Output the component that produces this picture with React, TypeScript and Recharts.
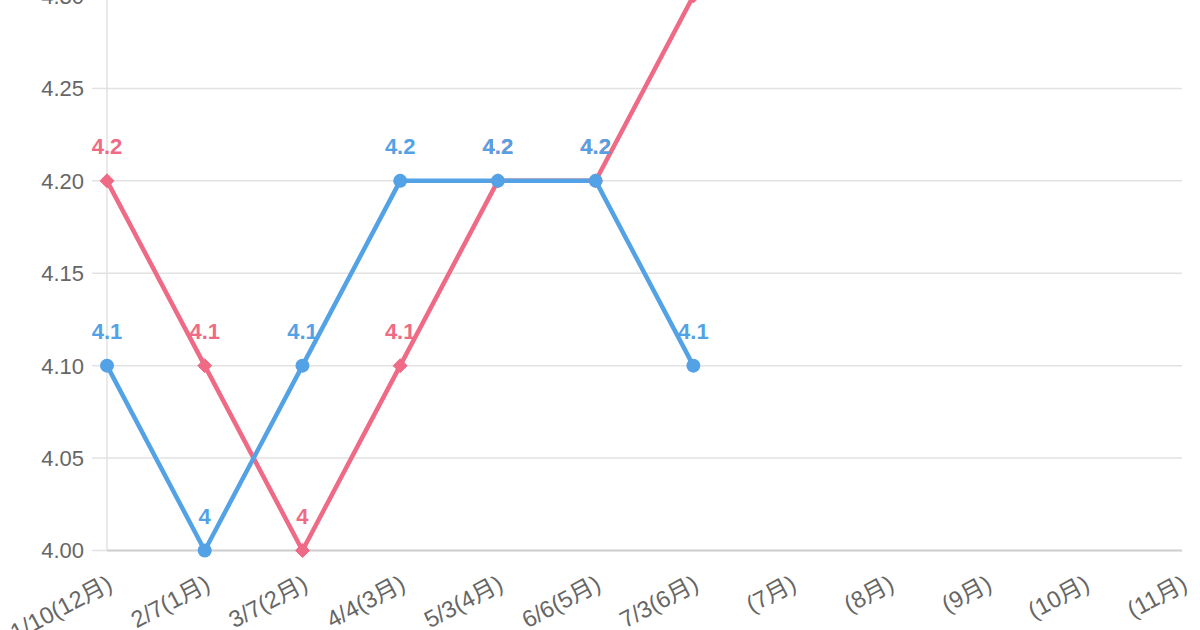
import React from "react";
import { LineChart, Line, XAxis, YAxis, CartesianGrid, LabelList } from "recharts";

const categories = [
  "1/10(12月)", "2/7(1月)", "3/7(2月)", "4/4(3月)", "5/3(4月)", "6/6(5月)",
  "7/3(6月)", "(7月)", "(8月)", "(9月)", "(10月)", "(11月)",
];
const redSeries: (number | null)[] = [4.2, 4.1, 4.0, 4.1, 4.2, 4.2, 4.3, null, null, null, null, null];
const blueSeries: (number | null)[] = [4.1, 4.0, 4.1, 4.2, 4.2, 4.2, 4.1, null, null, null, null, null];
const yTicks = [4.0, 4.05, 4.1, 4.15, 4.2, 4.25, 4.3];

const RED = "#ef6a84";
const BLUE = "#54a2e6";
const FONT = "'Liberation Sans', Arial, 'Noto Sans CJK JP', sans-serif";

const data = categories.map((c, i) => ({ name: c, red: redSeries[i], blue: blueSeries[i] }));

const XTick = (props: any) => {
  const { x, payload } = props;
  const ax = x + 3;
  const ay = 564.5 + 31;
  return (
    <text
      x={ax}
      y={ay}
      dy="0.35em"
      textAnchor="end"
      transform={`rotate(-28, ${ax}, ${ay})`}
      fill="#666"
      fontSize={23.5}
      fontFamily={FONT}
    >
      {payload.value}
    </text>
  );
};

const YTick = (props: any) => {
  const { x, y, payload } = props;
  return (
    <text x={x} y={y} dy="0.36em" textAnchor="end" fill="#666" fontSize={22} fontFamily={FONT}>
      {payload.value.toFixed(2)}
    </text>
  );
};

const Diamond = (props: any) => {
  const { cx, cy, value } = props;
  if (value == null || cx == null || cy == null) return null;
  const r = 7;
  return (
    <polygon
      points={`${cx},${cy - r} ${cx + r},${cy} ${cx},${cy + r} ${cx - r},${cy}`}
      fill={RED}
      stroke={RED}
      strokeWidth={1}
    />
  );
};

const makeLabel = (color: string) => (props: any) => {
  const { x, y, value } = props;
  if (value == null) return null;
  return (
    <text
      x={x}
      y={y - 27}
      textAnchor="middle"
      fill={color}
      fontSize={22}
      fontWeight="bold"
      fontFamily={FONT}
    >
      {String(value)}
    </text>
  );
};

export default function App() {
  return (
    <div style={{ position: "absolute", left: 0, top: 0, width: 1200, height: 630, overflow: "hidden", background: "#fff" }}>
      <div style={{ position: "absolute", left: 0, top: -14.5 }}>
        <LineChart width={1200} height={654.5} data={data} margin={{ top: 10, right: 18, left: 0, bottom: 0 }}>
          <CartesianGrid vertical={false} stroke="#e2e2e2" strokeWidth={1.5} />
          <XAxis
            dataKey="name"
            padding={{ left: 0, right: 0 }}
            height={90}
            interval={0}
            tickLine={false}
            axisLine={{ stroke: "#cfcfcf", strokeWidth: 2 }}
            tick={<XTick />}
          />
          <YAxis
            width={107}
            domain={[4.0, 4.3]}
            ticks={yTicks}
            tickSize={15}
            tickMargin={8}
            tickLine={{ stroke: "#e2e2e2", strokeWidth: 1.5 }}
            axisLine={{ stroke: "#e2e2e2", strokeWidth: 1.5 }}
            tick={<YTick />}
          />
          <Line
            dataKey="red"
            stroke={RED}
            strokeWidth={4.5}
            dot={<Diamond />}
            activeDot={false}
            isAnimationActive={false}
            type="linear"
          >
            <LabelList dataKey="red" content={makeLabel(RED)} />
          </Line>
          <Line
            dataKey="blue"
            stroke={BLUE}
            strokeWidth={4.5}
            dot={{ r: 7, fill: BLUE, stroke: BLUE, strokeWidth: 0 }}
            activeDot={false}
            isAnimationActive={false}
            type="linear"
          >
            <LabelList dataKey="blue" content={makeLabel(BLUE)} />
          </Line>
        </LineChart>
      </div>
    </div>
  );
}
